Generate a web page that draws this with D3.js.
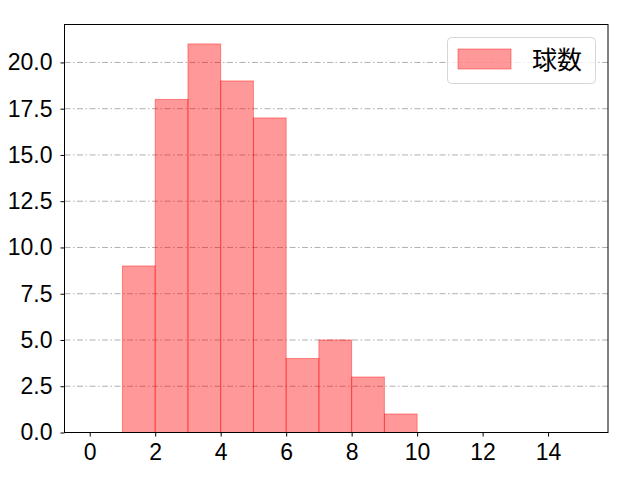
<!DOCTYPE html>
<html>
<head>
<meta charset="utf-8">
<script src="https://cdn.jsdelivr.net/npm/d3@7"></script>
<style>
  body { margin: 0; background: #fff; }
  svg text { font-family: "Noto Sans CJK JP", "Noto Sans", sans-serif; }
</style>
</head>
<body>
<div id="chart"></div>
<script>
// Histogram of pitch counts
const binStarts = [1, 2, 3, 4, 5, 6, 7, 8, 9];
const counts = [9, 18, 21, 19, 17, 4, 5, 3, 1];
const xTicks = [0, 2, 4, 6, 8, 10, 12, 14];
const yTicks = [0, 2.5, 5, 7.5, 10, 12.5, 15, 17.5, 20];
const seriesName = "球数";

const width = 640, height = 480;
const margin = { top: 24.5, right: 32, bottom: 47.5, left: 64.5 };

const svg = d3.select("#chart").append("svg")
    .attr("width", width)
    .attr("height", height);

const x = d3.scaleLinear()
    .domain([-0.77, 15.83])
    .range([margin.left, width - margin.right]);

const y = d3.scaleLinear()
    .domain([0, 22.05])
    .range([height - margin.bottom, margin.top]);

// Grid lines (dash-dot)
svg.append("g")
    .selectAll("line")
    .data(yTicks)
    .join("line")
    .attr("x1", margin.left)
    .attr("x2", width - margin.right)
    .attr("y1", d => y(d))
    .attr("y2", d => y(d))
    .attr("stroke", "#b0b0b0")
    .attr("stroke-width", 1)
    .attr("stroke-dasharray", "6,2.5,1.5,2.5");

// Bars
svg.append("g")
    .selectAll("rect")
    .data(binStarts)
    .join("rect")
    .attr("x", d => x(d))
    .attr("width", d => x(d + 1) - x(d))
    .attr("y", (d, i) => y(counts[i]))
    .attr("height", (d, i) => y(0) - y(counts[i]))
    .attr("fill", "rgba(255,0,0,0.4)")
    .attr("stroke", "rgba(255,0,0,0.4)")
    .attr("stroke-width", 1);

// Axes
const xAxis = svg.append("g")
    .attr("transform", `translate(0,${height - margin.bottom})`)
    .call(d3.axisBottom(x).tickValues(xTicks).tickSize(4).tickPadding(7).tickFormat(d3.format("d")));

const yAxis = svg.append("g")
    .attr("transform", `translate(${margin.left},0)`)
    .call(d3.axisLeft(y).tickValues(yTicks).tickSize(4).tickPadding(8).tickFormat(d3.format(".1f")));

[xAxis, yAxis].forEach(a => {
    a.select(".domain").remove();
    a.selectAll("text").attr("font-size", 23).attr("fill", "#000")
        .style("font-family", "'Liberation Sans', sans-serif");
    a.selectAll("line").attr("stroke", "#000").attr("stroke-width", 1);
});

// Frame
svg.append("rect")
    .attr("x", margin.left)
    .attr("y", margin.top)
    .attr("width", width - margin.right - margin.left)
    .attr("height", height - margin.bottom - margin.top)
    .attr("fill", "none")
    .attr("stroke", "#000")
    .attr("stroke-width", 1);

// Legend
const legend = svg.append("g");
legend.append("rect")
    .attr("x", 447.5).attr("y", 37.5)
    .attr("width", 148).attr("height", 46)
    .attr("rx", 4)
    .attr("fill", "rgba(255,255,255,0.8)")
    .attr("stroke", "#d6d6d6");
legend.append("rect")
    .attr("x", 458).attr("y", 49)
    .attr("width", 53).attr("height", 20)
    .attr("fill", "rgba(255,0,0,0.4)")
    .attr("stroke", "rgba(255,0,0,0.4)");
legend.append("text")
    .attr("x", 532).attr("y", 60)
    .attr("dy", "0.35em")
    .attr("font-size", 25)
    .text(seriesName);
</script>
</body>
</html>
